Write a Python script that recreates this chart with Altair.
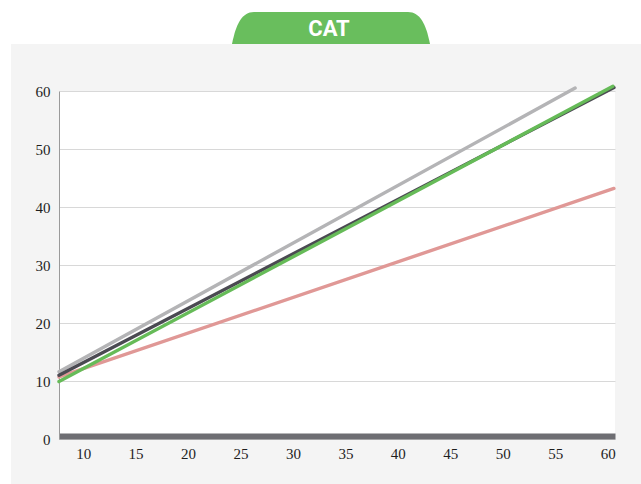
import altair as alt
import pandas as pd

# --- data ---
series_names = ["gray", "pink", "dark", "green"]
series_colors = ["#b4b4b6", "#e09896", "#4b4a52", "#66bb58"]
x_start = [7.7, 7.7, 7.7, 7.7]
y_start = [11.6, 10.7, 11.0, 9.9]
x_end = [56.9, 60.6, 60.6, 60.5]
y_end = [60.5, 43.2, 60.6, 60.8]
x_ticks = [10, 15, 20, 25, 30, 35, 40, 45, 50, 55, 60]
y_ticks = [0, 10, 20, 30, 40, 50, 60]
title_text = ["CAT"]

W, H = 556, 348
PAD_L, PAD_T, PAD_R, PAD_B = 59, 91, 26, 45

x_scale = alt.Scale(domain=[7.7, 60.7], nice=False, zero=False)
y_scale = alt.Scale(domain=[0, 60], nice=False)

dummy = pd.DataFrame({"a": [0]})

top_white = alt.Chart(dummy).mark_rect(color="white").encode(
    x=alt.value(-PAD_L), x2=alt.value(W + PAD_R),
    y=alt.value(-PAD_T), y2=alt.value(44 - PAD_T))
left_white = alt.Chart(dummy).mark_rect(color="white").encode(
    x=alt.value(-PAD_L), x2=alt.value(11 - PAD_L),
    y=alt.value(-PAD_T), y2=alt.value(H + PAD_B))

tab_path = ("M -0.99 0 C -0.95 -0.2 -0.89 -0.32 -0.77 -0.32 "
            "L 0.77 -0.32 C 0.89 -0.32 0.95 -0.2 0.99 0 Z")
tab = alt.Chart(dummy).mark_point(
    shape=tab_path, filled=True, size=40000, color="#69be5d",
    opacity=1, strokeWidth=0).encode(
    x=alt.value(331 - PAD_L), y=alt.value(44 - PAD_T))
tab_text = alt.Chart(pd.DataFrame({"t": title_text})).mark_text(
    font="Roboto", fontWeight="bold", fontSize=22, color="white",
    align="center", baseline="alphabetic").encode(
    x=alt.value(329 - PAD_L), y=alt.value(36 - PAD_T), text="t:N")

layers = []

for i, name in enumerate(series_names):
    df = pd.DataFrame({"x": [x_start[i], x_end[i]],
                       "y": [y_start[i], y_end[i]]})
    line = alt.Chart(df).mark_line(
        color=series_colors[i], strokeWidth=3.4, strokeCap="round")
    if i == 0:
        line = line.encode(
            x=alt.X("x:Q", scale=x_scale,
                    axis=alt.Axis(values=x_ticks, title=None, grid=False,
                                  ticks=False, tickSize=0, domain=True,
                                  domainColor="#6e6e73", domainWidth=6, offset=-3,
                                  labelPadding=17, labelBaseline="middle",
                                  labelFont="Liberation Serif", labelFontSize=15,
                                  labelColor="#1e1e1e")),
            y=alt.Y("y:Q", scale=y_scale,
                    axis=alt.Axis(values=y_ticks, title=None, grid=True,
                                  gridColor="#d8d8d8", gridWidth=1,
                                  ticks=False, tickSize=0, domain=True,
                                  domainColor="#9a9a9a", domainWidth=1,
                                  labelPadding=9, labelBaseline="middle",
                                  labelFont="Liberation Serif", labelFontSize=15,
                                  labelColor="#1e1e1e")),
        )
    else:
        line = line.encode(x=alt.X("x:Q", scale=x_scale),
                           y=alt.Y("y:Q", scale=y_scale))
    layers.append(line)

layers += [top_white, left_white, tab, tab_text]

chart = alt.layer(*layers).properties(
    width=W, height=H,
    autosize=alt.AutoSizeParams(type="none"),
    padding={"left": PAD_L, "top": PAD_T, "right": PAD_R, "bottom": PAD_B},
    background="#f4f4f4",
).configure_view(fill="white", stroke=None)

chart.save("out.html", embed_options={"renderer": "svg", "actions": False})
